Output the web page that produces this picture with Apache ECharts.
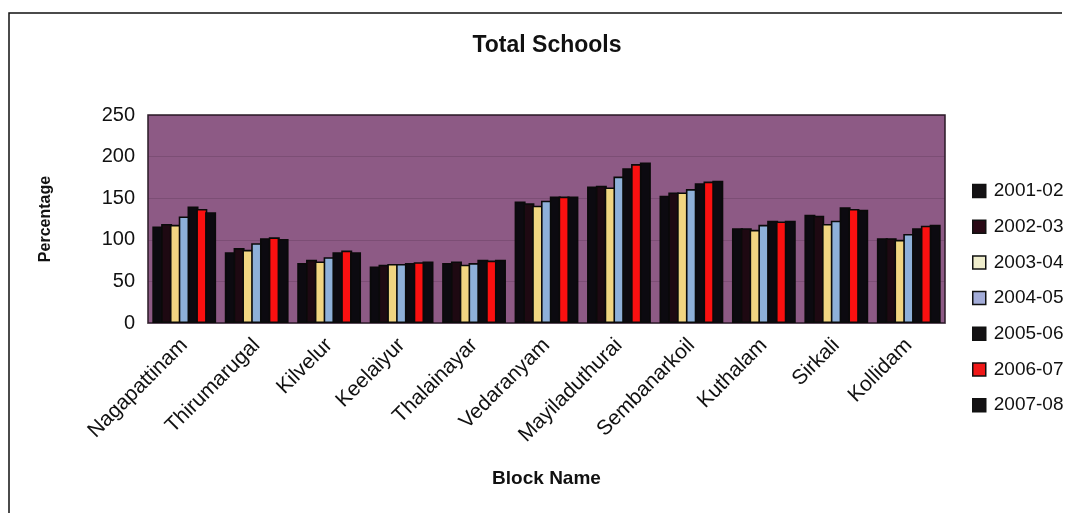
<!DOCTYPE html>
<html>
<head>
<meta charset="utf-8">
<script src="https://cdn.jsdelivr.net/npm/echarts@6/dist/echarts.min.js"></script>
<style>
  html, body { margin: 0; padding: 0; background: #ffffff; }
  #chart { width: 1067px; height: 513px; }
</style>
</head>
<body>
<div id="chart"></div>
<script>
// Blocks of the district and the yearly school totals for each
const blocks = ['Nagapattinam', 'Thirumarugal', 'Kilvelur', 'Keelaiyur', 'Thalainayar',
  'Vedaranyam', 'Mayiladuthurai', 'Sembanarkoil', 'Kuthalam', 'Sirkali', 'Kollidam'];
const years = ['2001-02', '2002-03', '2003-04', '2004-05', '2005-06', '2006-07', '2007-08'];
const y2001 = [116, 85, 72, 68, 72, 146, 164, 153, 114, 130, 102];
const y2002 = [119, 90, 76, 70, 74, 144, 165, 157, 114, 129, 102];
const y2003 = [118, 88, 74, 71, 70, 141, 163, 157, 112, 119, 100];
const y2004 = [128, 96, 79, 71, 72, 147, 176, 161, 118, 123, 107];
const y2005 = [140, 102, 85, 72, 76, 152, 186, 168, 123, 139, 114];
const y2006 = [137, 103, 87, 73, 75, 152, 191, 170, 122, 137, 117];
const y2007 = [133, 101, 85, 74, 76, 152, 193, 171, 123, 136, 118];
const yTicks = [0, 50, 100, 150, 200, 250];

const yearValues = [y2001, y2002, y2003, y2004, y2005, y2006, y2007];
const barColors = ['#0c0a10', '#1e0912', '#f1d581', '#8eb0d9', '#0c0a10', '#fa1010', '#0c0a10'];
const legendColors = ['#141214', '#2a0a16', '#efedcc', '#a3acd8', '#141214', '#f01818', '#141214'];

const font = '"Liberation Sans", Arial, sans-serif';
const chart = echarts.init(document.getElementById('chart'));

const series = years.map((yr, i) => ({
  name: yr,
  type: 'bar',
  data: yearValues[i],
  barWidth: 11,
  barGap: '-20%',
  itemStyle: { color: barColors[i], borderColor: '#0a0a0a', borderWidth: 1.6 },
  emphasis: { disabled: true }
}));

chart.setOption({
  backgroundColor: '#ffffff',
  animation: false,
  title: {
    text: 'Total Schools',
    left: 542, top: 29, textAlign: 'center',
    textStyle: { fontFamily: font, fontSize: 23, fontWeight: 'bold', color: '#111' }
  },
  legend: {
    orient: 'vertical',
    left: 967, top: 176,
    itemWidth: 13, itemHeight: 13, itemGap: 15.7,
    icon: 'rect',
    selectedMode: false,
    textStyle: { fontFamily: font, fontSize: 19, lineHeight: 20, color: '#111', padding: [0, 0, 0, 3] },
    data: years.map((yr, i) => ({
      name: yr,
      itemStyle: { color: legendColors[i], borderColor: '#111', borderWidth: 1.5 }
    }))
  },
  grid: {
    left: 148, right: 122, top: 115, bottom: 190,
    show: true,
    backgroundColor: '#8d5a85',
    borderColor: '#2a1a26',
    borderWidth: 1.5
  },
  xAxis: {
    type: 'category',
    data: blocks,
    name: 'Block Name',
    nameLocation: 'middle',
    nameGap: 146,
    nameTextStyle: { fontFamily: font, fontSize: 19, fontWeight: 'bold', color: '#111' },
    axisLine: { show: true, lineStyle: { color: '#5a4a58', width: 1 } },
    axisTick: { show: false },
    axisLabel: {
      rotate: 45, interval: 0, margin: 19,
      fontFamily: font, fontSize: 21, color: '#111'
    }
  },
  yAxis: {
    type: 'value',
    min: yTicks[0], max: yTicks[yTicks.length - 1], interval: 50,
    name: 'Percentage',
    nameLocation: 'middle',
    nameGap: 94,
    nameRotate: 90,
    nameTextStyle: { fontFamily: font, fontSize: 16, fontWeight: 'bold', color: '#111' },
    axisLine: { show: false },
    axisTick: { show: false },
    axisLabel: { fontFamily: font, fontSize: 20, color: '#111', margin: 13 },
    splitLine: { show: true, lineStyle: { color: 'rgba(60,30,55,0.2)', width: 1 } }
  },
  graphic: [
    {
      type: 'polyline',
      shape: { points: [[9, 513], [9, 13], [1062, 13]] },
      style: { stroke: '#111', lineWidth: 1.5, fill: null },
      silent: true
    }
  ],
  series: series
});
</script>
</body>
</html>
